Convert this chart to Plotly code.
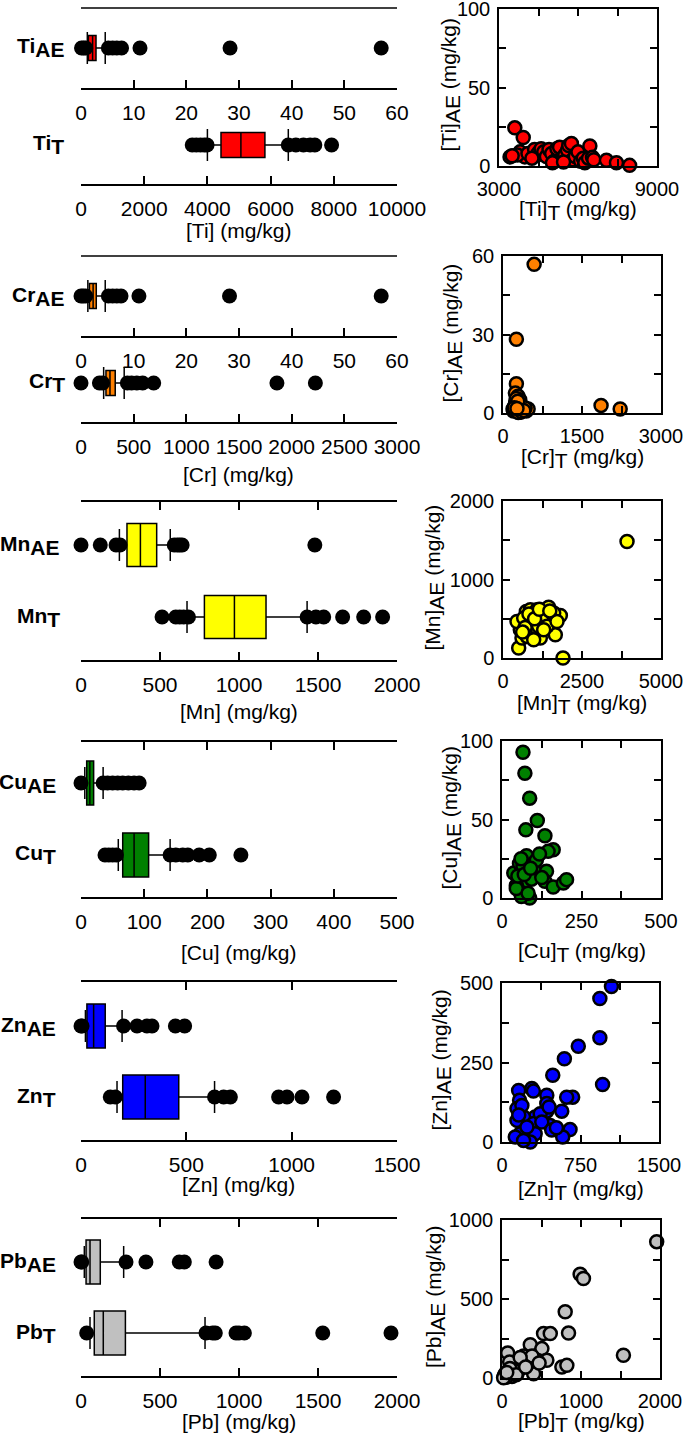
import plotly.graph_objects as go

W, H = 685, 1441
FONT = "Liberation Sans, Arial, Helvetica, sans-serif"

# ---------------- data ----------------
elements = ["Ti", "Cr", "Mn", "Cu", "Zn", "Pb"]
colors = ["#FF0000", "#FF8000", "#FFFF00", "#008000", "#0000FF", "#C0C0C0"]

# box statistics: q1, median, q3, lower whisker, upper whisker
ti_ae_stats = [1.4, 2.2, 2.85, 1.2, 4.6]
ti_ae_outliers = [0.1, 0.5, 0.9, 5.2, 6.0, 6.8, 7.7, 11.2, 28.3, 57.0]
ti_t_stats = [4430, 5060, 5820, 4000, 6560]
ti_t_outliers = [3520, 3650, 3780, 3900, 3990, 6560, 6800, 7040, 7250, 7400, 7930]
cr_ae_stats = [1.6, 2.3, 2.9, 1.3, 4.6]
cr_ae_outliers = [0.0, 0.4, 0.9, 5.2, 6.0, 6.8, 7.6, 11.0, 28.2, 57.0]
cr_t_stats = [237, 275, 325, 215, 410]
cr_t_outliers = [0, 175, 205, 440, 480, 530, 585, 690, 1860, 2225]
mn_ae_stats = [291, 376, 479, 243, 565]
mn_ae_outliers = [0, 122, 222, 247, 590, 610, 625, 640, 1480]
mn_t_stats = [781, 971, 1171, 671, 1431]
mn_t_outliers = [513, 600, 625, 650, 680, 1431, 1487, 1536, 1656, 1789, 1909]
cu_ae_stats = [9, 14, 20, 6, 35]
cu_ae_outliers = [0, 35, 42, 50, 58, 66, 75, 84, 92]
cu_t_stats = [66, 84, 107, 59, 141]
cu_t_outliers = [38, 44, 50, 56, 141, 150, 161, 169, 187, 203, 253]
zn_ae_stats = [28, 60, 115, 21, 195]
zn_ae_outliers = [0, 5, 202, 266, 313, 337, 448, 492]
zn_t_stats = [198, 305, 464, 171, 634]
zn_t_outliers = [139, 163, 634, 677, 709, 938, 978, 1049, 1199]
pb_ae_stats = [32, 57, 122, 21, 270]
pb_ae_outliers = [0, 5, 285, 411, 622, 654, 855]
pb_t_stats = [84, 141, 281, 57, 785]
pb_t_outliers = [36, 791, 833, 850, 981, 1000, 1034, 1530, 1962]

# scatter pairs: total (T) vs aqua-regia extractable (AE)
ti_t = [3600, 3920, 3420, 3980, 3800, 3700, 4100, 4350, 4450, 4500, 4600, 4700, 4800, 4900,
        5000, 5100, 5200, 5300, 5400, 5500, 5600, 5650, 5750, 5800, 5900, 6000, 6100, 6200,
        6260, 6400, 6450, 6550, 6600, 7080, 7460, 7960, 3500, 4250, 5030, 5450]
ti_ae = [24.3, 18.1, 5.8, 5.8, 9.0, 7.0, 8.0, 10.5, 7.0, 8.5, 11.0, 9.0, 6.0, 10.5,
         8.0, 3.0, 11.0, 12.0, 4.0, 7.0, 10.0, 13.0, 14.3, 4.0, 6.0, 9.0, 3.0, 5.0,
         2.1, 5.0, 12.8, 5.5, 4.0, 3.6, 2.1, 0.4, 6.5, 5.0, 2.0, 2.5]
cr_t = [591, 254, 254, 235, 286, 318, 190, 220, 260, 280, 300, 320, 350, 380, 410, 440, 477,
        240, 270, 300, 330, 200, 230, 290, 310, 360, 420, 1862, 2225, 250, 280, 215, 345, 395, 265]
cr_ae = [56.8, 28.2, 11.2, 7.6, 6.4, 5.1, 1.5, 2.5, 3.0, 2.0, 1.0, 0.5, 1.8, 2.2, 1.2, 0.8, 1.5,
         4.0, 3.5, 2.8, 0.3, 0.8, 1.2, 0.2, 3.8, 2.6, 1.9, 2.9, 1.5, 5.5, 4.5, 2.0, 0.6, 1.0, 1.7]
mn_t = [3925, 1899, 496, 739, 1023, 1340, 1815, 1445, 1550, 1181, 1656, 548, 601, 443, 865, 1076,
        1234, 654, 918, 1129, 760, 971, 1392, 1604, 1709, 1287, 700, 820, 1000, 1150, 1480, 620]
mn_ae = [1483, 0, 127, 593, 369, 542, 542, 648, 487, 254, 297, 360, 254, 466, 614, 614,
         530, 508, 445, 403, 275, 233, 403, 572, 466, 360, 390, 560, 500, 620, 600, 330]
cu_t = [66, 72, 87, 111, 75, 135, 161, 145, 77, 37, 55, 98, 66, 87, 103, 140, 135, 161, 193, 203,
        75, 45, 56, 77, 87, 61, 93, 108, 45, 50, 118, 82, 70, 90, 60, 125]
cu_ae = [92.8, 79.5, 63.6, 49.4, 43.4, 39.6, 30.7, 29.7, 26.9, 15.9, 22, 22, 20, 18, 17, 17, 10.6,
         7, 9.5, 11.7, 10.6, 8, 4.2, 2, 0, 1, 12, 24, 6, 14, 28, 3, 15, 19, 25, 13]
zn_t = [1046, 935, 935, 961, 729, 596, 485, 675, 618, 285, 159, 168, 428, 428, 428, 571, 317, 206,
        143, 143, 301, 460, 650, 580, 174, 127, 317, 270, 238, 365, 380, 475, 206, 190, 300, 450, 160, 520]
zn_ae = [489, 451, 328, 181, 301, 262, 210, 141, 141, 168, 162, 131, 147, 121, 97, 97, 79, 79,
         105, 68, 58, 52, 39, 16, 26, 16, 26, 0, 47, 89, 63, 38, 5, 115, 160, 110, 85, 45]
pb_t = [1958, 989, 1031, 800, 842, 1537, 758, 821, 526, 611, 358, 505, 568, 442, 274, 72, 97, 232,
        400, 190, 126, 42, 55, 30, 150, 320, 380, 230, 470, 100, 20, 180, 300, 60]
pb_ae = [863, 657, 630, 419, 285, 144, 70, 80, 281, 281, 211, 186, 112, 112, 140, 159, 101, 59,
         27, 27, 10, 27, 5, 15, 50, 85, 140, 130, 95, 60, 2, 20, 70, 35]

# axis ranges
left_ranges = {"Ti": ([0, 60], 10, [0, 10000], 2000), "Cr": ([0, 60], 10, [0, 3000], 500),
               "Mn": ([0, 2000], 500, None, None), "Cu": ([0, 500], 100, None, None),
               "Zn": ([0, 1500], 500, None, None), "Pb": ([0, 2000], 500, None, None)}
scatter_ranges = {"Ti": ([3000, 9000], [0, 100]), "Cr": ([0, 3000], [0, 60]),
                  "Mn": ([0, 5000], [0, 2000]), "Cu": ([0, 500], [0, 100]),
                  "Zn": ([0, 1500], [0, 500]), "Pb": ([0, 2000], [0, 1000])}

data = {
    "Ti": (ti_ae_stats, ti_ae_outliers, ti_t_stats, ti_t_outliers, ti_t, ti_ae),
    "Cr": (cr_ae_stats, cr_ae_outliers, cr_t_stats, cr_t_outliers, cr_t, cr_ae),
    "Mn": (mn_ae_stats, mn_ae_outliers, mn_t_stats, mn_t_outliers, mn_t, mn_ae),
    "Cu": (cu_ae_stats, cu_ae_outliers, cu_t_stats, cu_t_outliers, cu_t, cu_ae),
    "Zn": (zn_ae_stats, zn_ae_outliers, zn_t_stats, zn_t_outliers, zn_t, zn_ae),
    "Pb": (pb_ae_stats, pb_ae_outliers, pb_t_stats, pb_t_outliers, pb_t, pb_ae),
}

# ---------------- layout geometry (page pixels) ----------------
LEFT_X = (81, 397)
geom = {
    "Ti": dict(split=True, ae_dom=(8, 88), ae_row=48, t_dom=(100, 184), t_row=145, bh=25,
               title_y=231, lab_x=66, sx=(499, 657), sy=(9, 166), sxt_y=210, syt_x=450),
    "Cr": dict(split=True, ae_dom=(256, 336), ae_row=296, t_dom=(348, 422), t_row=383, bh=25,
               title_y=474, lab_x=67, sx=(503, 661), sy=(256, 413), sxt_y=458, syt_x=452),
    "Mn": dict(split=False, dom=(502, 660), ae_row=545, t_row=617, bh=43,
               title_y=711, lab_x=62, sx=(503, 661), sy=(501, 658), sxt_y=705, syt_x=434),
    "Cu": dict(split=False, dom=(742, 897), ae_row=783, t_row=855, bh=44,
               title_y=952, lab_x=58, sx=(502, 661), sy=(741, 898), sxt_y=952, syt_x=451),
    "Zn": dict(split=False, dom=(982, 1140), ae_row=1026, t_row=1097, bh=44,
               title_y=1184, lab_x=58, sx=(502, 659), sy=(983, 1142), sxt_y=1190, syt_x=441),
    "Pb": dict(split=False, dom=(1219, 1376), ae_row=1262, t_row=1333, bh=44,
               title_y=1421, lab_x=58, sx=(502, 660), sy=(1220, 1378), sxt_y=1422, syt_x=435),
}

fig = go.Figure()
layout = {}
annotations = []
shapes = []
count = [0]


def fx(p):
    return p / W


def fy(p):
    return 1 - p / H


def new_axes(xdom, ydom, xcfg, ycfg):
    count[0] += 1
    n = count[0]
    s = "" if n == 1 else str(n)
    layout["xaxis" + s] = dict(domain=[fx(xdom[0]), fx(xdom[1])], anchor="y" + s,
                               automargin=False, ticklabeloverflow="allow", **xcfg)
    layout["yaxis" + s] = dict(domain=[fy(ydom[1]), fy(ydom[0])], anchor="x" + s,
                               automargin=False, ticklabeloverflow="allow", **ycfg)
    return "x" + s, "y" + s


def left_x(rng, dtick, mirror):
    return dict(range=rng, tick0=0, dtick=dtick, tickformat="d", showline=True,
                linecolor="black", linewidth=1.5,
                ticks="inside", ticklen=8, tickwidth=1.5, tickcolor="black", mirror=mirror,
                showgrid=False, zeroline=False, fixedrange=True, ticklabelstandoff=5,
                tickfont=dict(size=21, color="black", family=FONT))


def left_y(dom):
    return dict(range=[dom[1] - dom[0], 0], visible=False, showgrid=False, zeroline=False,
                fixedrange=True, type="linear")


def add_row(xa, ya, top, row_abs, stats, outl, color, bh):
    r = row_abs - top
    q1, med, q3, lo, hi = stats
    fig.add_trace(go.Box(orientation="h", y=[r], q1=[q1], median=[med], q3=[q3],
                         lowerfence=[lo], upperfence=[hi], width=bh, whiskerwidth=0,
                         fillcolor=color, line=dict(color="black", width=1.5), boxpoints=False,
                         xaxis=xa, yaxis=ya, showlegend=False, hoverinfo="skip"))
    fig.add_trace(go.Scatter(x=[lo, lo, None, hi, hi], y=[r - 16, r + 16, None, r - 16, r + 16],
                             mode="lines", line=dict(color="black", width=1.5),
                             xaxis=xa, yaxis=ya, showlegend=False, hoverinfo="skip"))
    fig.add_trace(go.Scatter(x=outl, y=[r] * len(outl), mode="markers",
                             marker=dict(size=15, color="black"), cliponaxis=False,
                             xaxis=xa, yaxis=ya, showlegend=False, hoverinfo="skip"))


def sub(s, size):
    return f"<sub><span style='font-size:{size}px'>{s}</span></sub>"


def sc_axis(rng, standoff):
    a, b = rng
    major = [a, (a + b) / 2, b]
    minor = [a + (b - a) * i / 4 for i in (1, 3)]
    return dict(range=rng, tickmode="array", tickvals=major, ticktext=[f"{int(v)}" for v in major],
                showline=True, mirror="ticks", linecolor="black", linewidth=1.5, ticks="inside",
                ticklen=7, tickwidth=1.5, tickcolor="black", showgrid=False, zeroline=False,
                fixedrange=True, ticklabelstandoff=standoff,
                minor=dict(tickmode="array", tickvals=minor, ticks="inside", ticklen=7,
                           tickwidth=1.5, tickcolor="black", showgrid=False),
                tickfont=dict(size=20, family=FONT, color="black"))


def ann(text, x, y, size=21, bold=False, xanchor="center", angle=0):
    annotations.append(dict(text=(f"<b>{text}</b>" if bold else text), x=fx(x), y=fy(y),
                            xref="paper", yref="paper", xanchor=xanchor, yanchor="middle",
                            showarrow=False, textangle=angle,
                            font=dict(size=size, family=FONT, color="black")))


for el, col in zip(elements, colors):
    g = geom[el]
    ae_s, ae_o, t_s, t_o, sc_t, sc_ae = data[el]
    r1, d1, r2, d2 = left_ranges[el]
    if g["split"]:
        xa, ya = new_axes(LEFT_X, g["ae_dom"], left_x(r1, d1, False), left_y(g["ae_dom"]))
        add_row(xa, ya, g["ae_dom"][0], g["ae_row"], ae_s, ae_o, col, g["bh"])
        xa, ya = new_axes(LEFT_X, g["t_dom"], left_x(r2, d2, False), left_y(g["t_dom"]))
        add_row(xa, ya, g["t_dom"][0], g["t_row"], t_s, t_o, col, g["bh"])
        # plain frame line on top of the panel (no ticks)
        shapes.append(dict(type="line", xref="paper", yref="paper",
                           x0=fx(LEFT_X[0]), x1=fx(LEFT_X[1]),
                           y0=fy(g["ae_dom"][0]), y1=fy(g["ae_dom"][0]),
                           line=dict(color="black", width=1.5)))
    else:
        xa, ya = new_axes(LEFT_X, g["dom"], left_x(r1, d1, "ticks"), left_y(g["dom"]))
        add_row(xa, ya, g["dom"][0], g["ae_row"], ae_s, ae_o, col, g["bh"])
        add_row(xa, ya, g["dom"][0], g["t_row"], t_s, t_o, col, g["bh"])
    # element labels
    ann(el + sub("AE", 21), g["lab_x"], g["ae_row"], size=21, bold=True, xanchor="right")
    ann(el + sub("T", 21), g["lab_x"], g["t_row"], size=21, bold=True, xanchor="right")
    ann(f"[{el}] (mg/kg)", (LEFT_X[0] + LEFT_X[1]) / 2, g["title_y"])

    # scatter panel
    xr, yr = scatter_ranges[el]
    xa, ya = new_axes(g["sx"], g["sy"], sc_axis(xr, 4), sc_axis(yr, 3))
    fig.add_trace(go.Scatter(x=sc_t, y=sc_ae, mode="markers", cliponaxis=False,
                             marker=dict(size=13, color=col, line=dict(color="black", width=2.5)),
                             xaxis=xa, yaxis=ya, showlegend=False))
    ann(f"[{el}]" + sub("T", 21) + " (mg/kg)", (g["sx"][0] + g["sx"][1]) / 2, g["sxt_y"])
    ann(f"[{el}]" + sub("AE", 21) + " (mg/kg)", g["syt_x"], (g["sy"][0] + g["sy"][1]) / 2 - 2,
        angle=-90)

fig.update_layout(**layout)
fig.update_layout(width=W, height=H, autosize=False,
                  margin=dict(l=0, r=0, t=0, b=0, pad=0, autoexpand=False),
                  paper_bgcolor="white", plot_bgcolor="rgba(0,0,0,0)", annotations=annotations,
                  shapes=shapes, showlegend=False, font=dict(family=FONT, color="black"))
fig.write_html("out.html", config={"displayModeBar": False},
               post_script="document.body.style.margin='0';document.body.style.overflow='hidden';")
